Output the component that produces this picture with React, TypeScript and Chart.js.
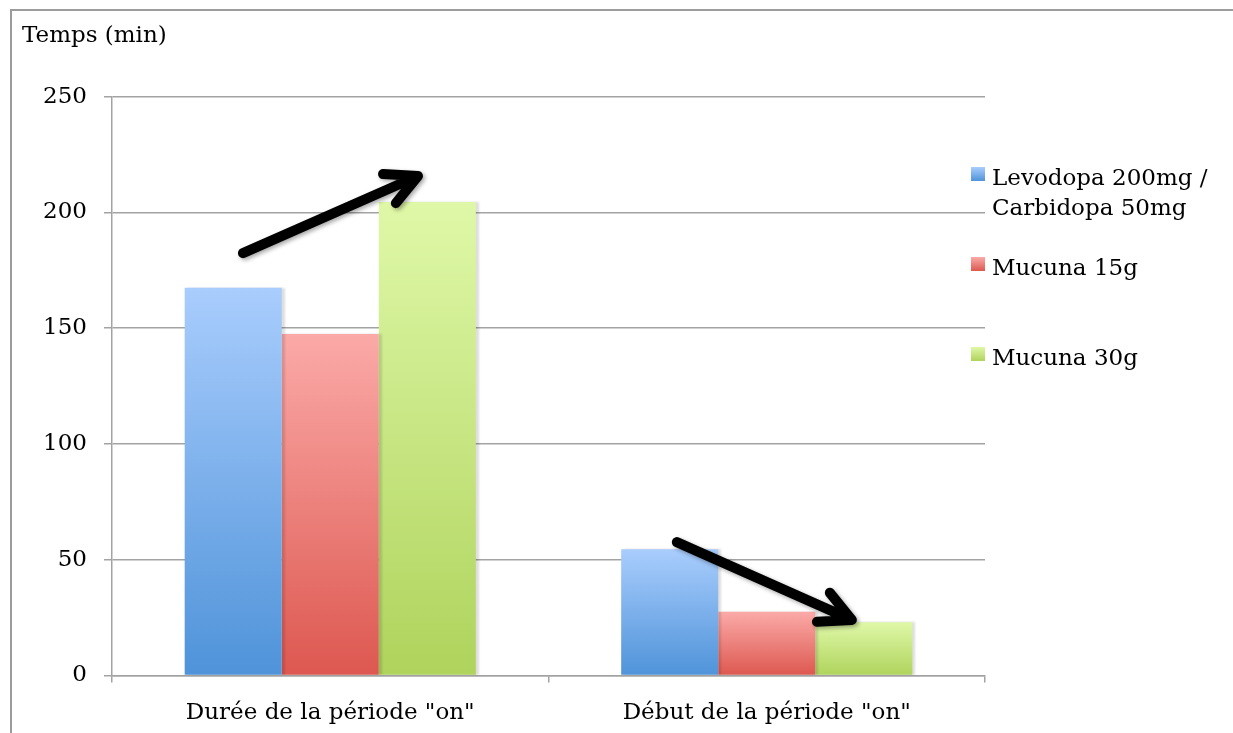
import React, { useEffect, useRef } from 'react';
import { Chart, registerables } from 'chart.js';

Chart.register(...registerables);

// ---------- data ----------
const categories = ['Durée de la période "on"', 'Début de la période "on"'];
const seriesLabels = ['Levodopa 200mg / Carbidopa 50mg', 'Mucuna 15g', 'Mucuna 30g'];
const levodopa = [167.5, 54.5];
const mucuna15 = [147.5, 27.5];
const mucuna30 = [204.5, 23];
const yTickValues = [0, 50, 100, 150, 200, 250];
const yAxisTitle = 'Temps (min)';
// arrows in data space: [category index offset, value]
const arrowFrom = [[-0.2, 182.4], [0.794, 57.6]];
const arrowTo = [[0.201, 215.7], [1.195, 24.0]];

// ---------- styles ----------
const FONT = '"DejaVu Serif", serif';
const FONT_SIZE = 23;
const GRID = '#a3a3a3';
const gradients = [
  ['#a9cdfd', '#4f93d9'],
  ['#fbaaa8', '#dd5850'],
  ['#dff8a8', '#afd35c'],
];

function barFill(idx: number) {
  return (ctx: any) => {
    const chart = ctx.chart;
    const area = chart.chartArea;
    if (!area || ctx.type !== 'data' || !chart.scales.y) return gradients[idx][1];
    const ys = chart.scales.y;
    const top = ys.getPixelForValue(ctx.raw);
    const bottom = ys.getPixelForValue(0);
    if (!isFinite(top) || !isFinite(bottom) || top === bottom) return gradients[idx][1];
    const g = chart.ctx.createLinearGradient(0, top, 0, bottom);
    g.addColorStop(0, gradients[idx][0]);
    g.addColorStop(1, gradients[idx][1]);
    return g;
  };
}

const barShadow = {
  id: 'barShadow',
  beforeDatasetsDraw(chart: any) {
    const c = chart.ctx;
    c.save();
    c.shadowColor = 'rgba(0,0,0,0.13)';
    c.shadowBlur = 2;
    c.shadowOffsetX = 3;
    c.shadowOffsetY = 0;
  },
  afterDatasetsDraw(chart: any) {
    chart.ctx.restore();
  },
};

const arrowsPlugin = {
  id: 'arrows',
  afterDatasetsDraw(chart: any) {
    const c = chart.ctx;
    const xs = chart.scales.x;
    const ys = chart.scales.y;
    c.save();
    c.strokeStyle = '#000';
    c.lineWidth = 10;
    c.lineCap = 'round';
    c.lineJoin = 'round';
    c.shadowColor = 'rgba(0,0,0,0.35)';
    c.shadowBlur = 4;
    c.shadowOffsetX = 2;
    c.shadowOffsetY = 2;
    for (let i = 0; i < arrowFrom.length; i++) {
      const x1 = xs.getPixelForValue(arrowFrom[i][0]);
      const y1 = ys.getPixelForValue(arrowFrom[i][1]);
      const x2 = xs.getPixelForValue(arrowTo[i][0]);
      const y2 = ys.getPixelForValue(arrowTo[i][1]);
      const back = Math.atan2(y1 - y2, x1 - x2);
      const len = 35;
      const a = (27 * Math.PI) / 180;
      c.beginPath();
      c.moveTo(x1, y1);
      c.lineTo(x2, y2);
      c.moveTo(x2 + len * Math.cos(back + a), y2 + len * Math.sin(back + a));
      c.lineTo(x2, y2);
      c.lineTo(x2 + len * Math.cos(back - a), y2 + len * Math.sin(back - a));
      c.stroke();
    }
    c.restore();
  },
};

const legendPlugin = {
  id: 'customLegend',
  afterDraw(chart: any) {
    const c = chart.ctx;
    const area = chart.chartArea;
    c.save();
    c.font = `${FONT_SIZE}px ${FONT}`;
    c.fillStyle = '#000';
    c.textBaseline = 'alphabetic';
    const boxX = area.right - 14;
    const textX = area.right + 7;
    const maxW = chart.width - textX - 4;
    chart.data.datasets.forEach((ds: any, i: number) => {
      const words = String(ds.label).split(' ');
      const lines: string[] = [];
      let cur = '';
      words.forEach((w) => {
        const t = cur ? cur + ' ' + w : w;
        if (c.measureText(t).width > maxW && cur) {
          lines.push(cur);
          cur = w;
        } else cur = t;
      });
      if (cur) lines.push(cur);
      const top = 167 + i * 90;
      const g = c.createLinearGradient(0, top, 0, top + 14);
      g.addColorStop(0, gradients[i][0]);
      g.addColorStop(1, gradients[i][1]);
      c.fillStyle = g;
      c.fillRect(boxX, top, 14, 14);
      c.fillStyle = '#000';
      lines.forEach((ln, k) => c.fillText(ln, textX, top + 18 + k * 30));
    });
    c.restore();
  },
};

export default function App() {
  const ref = useRef<HTMLCanvasElement>(null);
  useEffect(() => {
    Chart.defaults.font.family = FONT;
    Chart.defaults.font.size = FONT_SIZE;
    Chart.defaults.color = '#000';
    const series = [levodopa, mucuna15, mucuna30];
    const chart = new Chart(ref.current!, {
      type: 'bar',
      data: {
        labels: categories,
        datasets: series.map((d, i) => ({
          label: seriesLabels[i],
          data: d,
          backgroundColor: barFill(i),
          borderWidth: 0,
          categoryPercentage: 0.667,
          barPercentage: 1.0,
        })),
      },
      options: {
        responsive: false,
        animation: false,
        layout: { padding: { left: 22, right: 248, top: 0, bottom: 0 } },
        plugins: {
          legend: { display: false },
          tooltip: { enabled: false },
          title: {
            display: true,
            text: yAxisTitle,
            align: 'start',
            color: '#000',
            font: { family: FONT, size: FONT_SIZE, weight: 'normal' },
            padding: { top: 22, bottom: 47 },
          },
        },
        scales: {
          x: {
            offset: true,
            grid: {
              offset: true,
              drawOnChartArea: false,
              drawTicks: true,
              tickLength: 7,
              color: GRID,
              lineWidth: 1.5,
            },
            border: { display: true, color: GRID, width: 1.5 },
            ticks: { color: '#000', padding: 17, font: { family: FONT, size: FONT_SIZE } },
            afterFit: (s: any) => {
              s.height = 57.5;
            },
          },
          y: {
            min: 0,
            max: 250,
            afterBuildTicks: (s: any) => {
              s.ticks = yTickValues.map((v) => ({ value: v }));
            },
            grid: { color: GRID, lineWidth: 1.5, tickLength: 8, drawTicks: true },
            border: { display: true, color: GRID, width: 1.5 },
            ticks: { color: '#000', padding: 17, font: { family: FONT, size: FONT_SIZE } },
            afterFit: (s: any) => {
              s.width = 90;
            },
          },
        },
      },
      plugins: [barShadow, arrowsPlugin, legendPlugin],
    } as any);
    return () => chart.destroy();
  }, []);
  return (
    <div
      style={{
        position: 'fixed',
        left: 0,
        top: 0,
        width: 1233,
        height: 733,
        overflow: 'hidden',
        background: '#fff',
      }}
    >
      <div
        style={{
          position: 'absolute',
          left: 10,
          top: 9,
          width: 1400,
          height: 900,
          borderLeft: '2px solid #9c9c9c',
          borderTop: '2px solid #9c9c9c',
        }}
      />
      <canvas
        ref={ref}
        width={1233}
        height={733}
        style={{ position: 'absolute', left: 0, top: 0, width: 1233, height: 733 }}
      />
    </div>
  );
}
